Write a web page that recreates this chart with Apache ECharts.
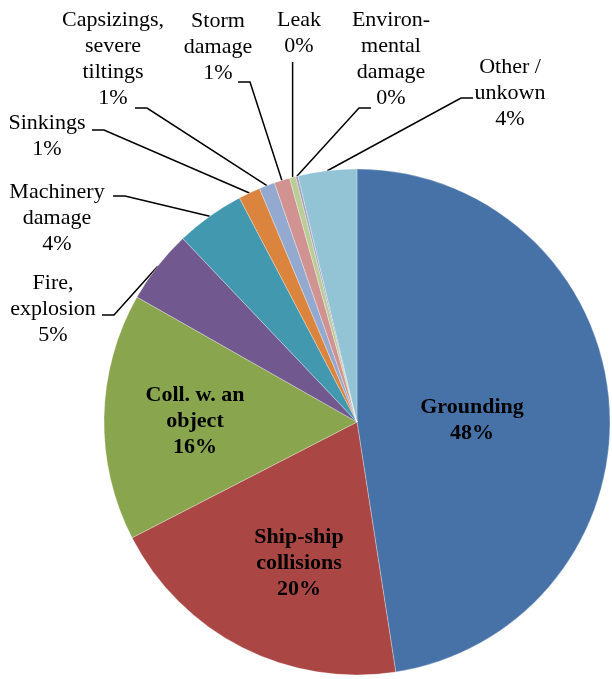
<!DOCTYPE html>
<html>
<head>
<meta charset="utf-8">
<script src="https://cdn.jsdelivr.net/npm/echarts@6/dist/echarts.min.js"></script>
<style>
  html, body { margin: 0; padding: 0; background: #fff; }
  #main { width: 612px; height: 679px; }
</style>
</head>
<body>
<div id="main"></div>
<script>
// accident types, clockwise from 12 o'clock
var categories = [
  "Grounding",
  "Ship-ship\ncollisions",
  "Coll. w. an\nobject",
  "Fire,\nexplosion",
  "Machinery\ndamage",
  "Sinkings",
  "Capsizings,\nsevere\ntiltings",
  "Storm\ndamage",
  "Leak",
  "Environ-\nmental\ndamage",
  "Other /\nunkown"
]
// share in percent
var shares = [47.6, 19.9, 15.8, 4.7, 4.4, 1.4, 1.0, 1.0, 0.4, 0.15, 3.75]
var colors = ["#4672A8", "#AA4744", "#89A54E", "#71588F", "#4198AF", "#DB843D",
              "#93A9CF", "#D19392", "#B9CD96", "#A99BBD", "#93C4D6"]
var inside = [true, true, true, false, false, false, false, false, false, false, false]

// label placement (text block centre) and where the leader line meets it
var labelPos = [
  { x: 472, y: 420 },
  { x: 299, y: 563 },
  { x: 195, y: 421 },
  { x: 53, y: 309, ax: 49, ay: 6, dir: 1 },
  { x: 57, y: 218, ax: 56, ay: -22, dir: 1 },
  { x: 47, y: 136, ax: 45, ay: -6, dir: 1 },
  { x: 113, y: 59, ax: 22, ay: 49, dir: 1 },
  { x: 218, y: 47, ax: 20, ay: 35, dir: 1 },
  { x: 299, y: 33, vertical: true, ay: 29 },
  { x: 391, y: 59, ax: -20, ay: 49, dir: -1 },
  { x: 510, y: 93, ax: -37, ay: 5, dir: -1 }
]

var chart = echarts.init(document.getElementById("main"), null, { renderer: "canvas" })

var pieData = categories.map(function(name, i) {
  var item = {
    name: name,
    value: shares[i],
    itemStyle: { color: colors[i] }
  }
  if (inside[i]) {
    item.label = {
      position: "inside",
      fontWeight: "bold"
    }
    item.labelLine = { show: false }
  }
  return item
})

var option = {
  animation: false,
  series: [
    {
      type: "pie",
      center: [357, 422],
      radius: 253,
      startAngle: 90,
      clockwise: true,
      avoidLabelOverlap: false,
      data: pieData,
      itemStyle: {
        borderColor: "#ffffff",
        borderWidth: 0.3
      },
      label: {
        show: true,
        position: "outside",
        color: "#000",
        fontFamily: "Liberation Serif",
        fontSize: 22,
        lineHeight: 26,
        align: "center",
        formatter: function(p) {
          return p.name + "\n" + Math.round(p.percent) + "%"
        }
      },
      labelLine: {
        show: true,
        length: 10,
        length2: 10,
        lineStyle: { color: "#000", width: 1.5 }
      },
      labelLayout: function(p) {
        var pos = labelPos[p.dataIndex]
        var out = { x: pos.x, y: pos.y, align: "center", verticalAlign: "middle" }
        if (inside[p.dataIndex]) return out
        var pts = p.labelLinePoints
        if (!pts) return out
        var start = pts[0]
        if (pos.vertical) {
          out.labelLinePoints = [start, [start[0], pos.y + pos.ay], [start[0], pos.y + pos.ay]]
        } else {
          var anchor = [pos.x + pos.ax, pos.y + pos.ay]
          var elbow = [anchor[0] + pos.dir * 12, anchor[1]]
          out.labelLinePoints = [start, elbow, anchor]
        }
        return out
      }
    }
  ]
}

chart.setOption(option)
</script>
</body>
</html>
